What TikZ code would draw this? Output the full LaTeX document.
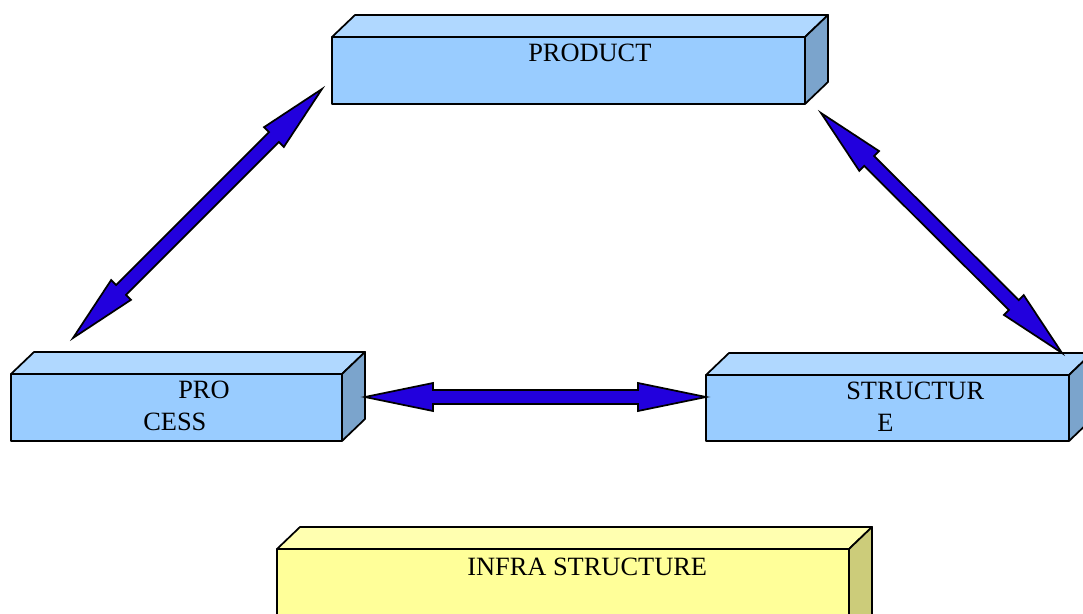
\documentclass[tikz,border=0pt]{standalone}
\usepackage{fontspec}
\setmainfont{Liberation Serif}
\usetikzlibrary{calc,fit}
\definecolor{bfront}{HTML}{99CCFF}
\definecolor{btop}{HTML}{B0D8FF}
\definecolor{bside}{HTML}{7BA4CC}
\definecolor{yfront}{HTML}{FFFF99}
\definecolor{ytop}{HTML}{FFFFB0}
\definecolor{yside}{HTML}{CCCC7A}
\definecolor{arrblue}{HTML}{2200DD}
\tikzset{
  face/.style={draw=black, line width=1.3pt, line join=round},
  frontface/.style={face, inner sep=0pt, rectangle},
  lbl/.style={font=\fontsize{19.8}{23}\selectfont, inner sep=0pt, anchor=base west},
  arrowstyle/.style={draw=black, fill=arrblue, line width=1.3pt, line join=miter}
}
\def\hl{51pt}
\def\hw{10.5pt}
\def\sw{5.25pt}
% cuboid: name, x1, y1, x2, y2, front, top, side
\newcommand\mycuboid[8]{%
  \filldraw[face, fill=#7] (#2,#3) -- ({#2+23},{#3-22}) -- ({#4+23},{#3-22}) -- (#4,#3) -- cycle;
  \filldraw[face, fill=#8] (#4,#3) -- ({#4+23},{#3-22}) -- ({#4+23},{#5-22}) -- (#4,#5) -- cycle;
  \coordinate (#1-nw) at (#2,#3);
  \coordinate (#1-se) at (#4,#5);
  \node[frontface, fill=#6, fit=(#1-nw)(#1-se)] (#1) {};
}
\newcommand\twowayarrow[2]{%
  \coordinate (#1-#2-h1) at ($(#1)!\hl!(#2)$);
  \coordinate (#1-#2-h2) at ($(#2)!\hl!(#1)$);
  \draw[arrowstyle] (#1) -- ($(#1-#2-h1)!\hw!90:(#2)$) -- ($(#1-#2-h1)!\sw!90:(#2)$)
    -- ($(#1-#2-h2)!\sw!-90:(#1)$) -- ($(#1-#2-h2)!\hw!-90:(#1)$) -- (#2)
    -- ($(#1-#2-h2)!\hw!90:(#1)$) -- ($(#1-#2-h2)!\sw!90:(#1)$)
    -- ($(#1-#2-h1)!\sw!-90:(#2)$) -- ($(#1-#2-h1)!\hw!-90:(#2)$) -- cycle;
}
\begin{document}
\begin{tikzpicture}[x=0.75pt, y=-0.75pt]
\useasboundingbox (0,0) rectangle (1083,614);
\clip (0,0) rectangle (1083,614);

% boxes
\mycuboid{product}{332}{37}{805}{104}{bfront}{btop}{bside}
\mycuboid{process}{11}{374}{342}{441}{bfront}{btop}{bside}
\mycuboid{structure}{706}{375}{1069}{441}{bfront}{btop}{bside}
\mycuboid{infra}{277}{549}{849}{640}{yfront}{ytop}{yside}

% texts
\node[lbl] (tproduct) at (528,61) {PRODUCT};
\node[lbl] (tpro) at (178,398) {PRO};
\node[lbl] (tcess) at (143,430) {CESS};
\node[lbl] (tstruct) at (846,399.5) {STRUCTUR};
\node[lbl] (te) at (877,431.5) {E};
\node[lbl] (tinfra) at (467,575) {INFRA STRUCTURE};

% arrow end points
\coordinate (procUp) at (73,338);
\coordinate (prodLeft) at (322,89);
\coordinate (prodRight) at (821,113);
\coordinate (structUp) at (1062,353);
\coordinate (procRight) at (365,397);
\coordinate (structLeft) at (706,397);

\twowayarrow{procUp}{prodLeft}
\twowayarrow{prodRight}{structUp}
\twowayarrow{procRight}{structLeft}
\end{tikzpicture}
\end{document}
